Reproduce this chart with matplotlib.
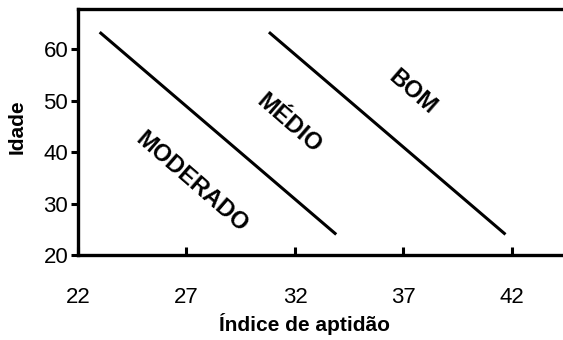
import matplotlib.pyplot as plt

plt.rcParams['font.family'] = ['Liberation Sans', 'DejaVu Sans']

# limit lines between fitness classes
line1_x = [23.0, 33.9]
line1_y = [63.3, 24.0]
line2_x = [30.8, 41.7]
line2_y = [63.3, 24.0]

labels = ['MODERADO', 'MÉDIO', 'BOM']
label_x = [27.25, 31.7, 37.4]
label_y = [34.2, 45.6, 51.7]

xticks = [22, 27, 32, 37, 42]
yticks = [20, 30, 40, 50, 60]

fig = plt.figure(figsize=(5.63, 3.4), dpi=100)
ax = fig.add_axes([0.1385, 0.25, 0.8615, 0.7235])

ax.plot(line1_x, line1_y, color='black', lw=2.2, solid_capstyle='butt')
ax.plot(line2_x, line2_y, color='black', lw=2.2, solid_capstyle='butt')

for t, x, y in zip(labels, label_x, label_y):
    ax.text(x, y, t, rotation=-41, ha='center', va='center',
            fontsize=17, fontweight='bold', rotation_mode='anchor')

ax.set_xlim(22, 44.35)
ax.set_ylim(20, 67.8)
ax.set_xticks(xticks)
ax.set_yticks(yticks)
ax.tick_params(axis='x', direction='in', length=6, width=2.2, pad=23, labelsize=16)
ax.tick_params(axis='y', direction='out', length=5, width=2.2, pad=2, labelsize=16)

for s in ['left', 'top', 'bottom']:
    ax.spines[s].set_linewidth(2.4)
ax.spines['right'].set_visible(False)

ax.set_xlabel('Índice de aptidão', fontsize=15, fontweight='bold')
ax.set_ylabel('Idade', fontsize=15, fontweight='bold')
ax.xaxis.set_label_coords(0.468, -0.235)
ax.yaxis.set_label_coords(-0.105, 0.52)

fig.savefig('out.png', dpi=100)
